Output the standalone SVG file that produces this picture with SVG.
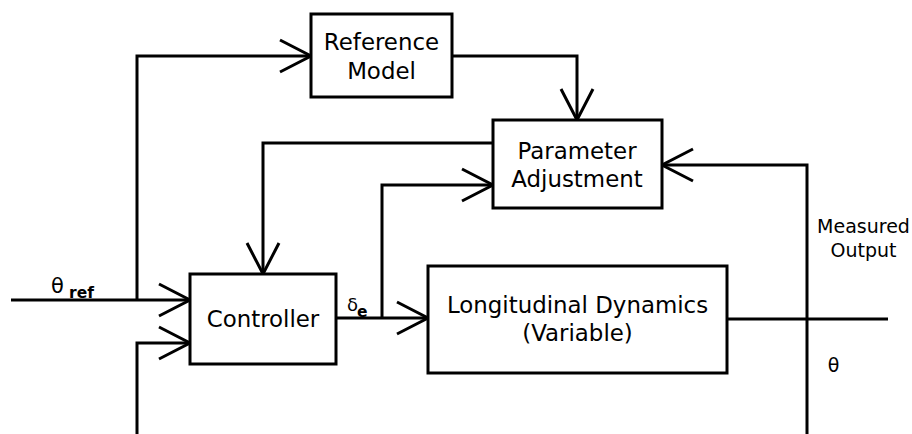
<svg xmlns="http://www.w3.org/2000/svg" width="912" height="434" viewBox="0 0 912 434">
<style>
.box{fill:#fff;stroke:#000;stroke-width:3}
.ln{fill:none;stroke:#000;stroke-width:3}
.t{font-family:"DejaVu Sans",sans-serif;font-size:22.9px;fill:#000;text-anchor:middle}
.s{font-family:"DejaVu Sans",sans-serif;font-size:19px;fill:#000;text-anchor:middle}
.g{font-family:"DejaVu Sans",sans-serif;fill:#000}
.b{font-family:"DejaVu Sans",sans-serif;font-weight:bold;fill:#000}
</style>
<defs>
<marker id="arr" markerUnits="userSpaceOnUse" viewBox="-34 -20 40 40" markerWidth="40" markerHeight="40" refX="0" refY="0" orient="auto" overflow="visible">
<path d="M-31,-16 L0,0 L-31,16" fill="none" stroke="#000" stroke-width="3"/>
</marker>
</defs>
<rect width="912" height="434" fill="#fff"/>
<g id="connectors">
<path class="ln" d="M11,300 H190" marker-end="url(#arr)"/>
<path class="ln" d="M137,300 V56 H311" marker-end="url(#arr)"/>
<path class="ln" d="M452,56 H577 V120" marker-end="url(#arr)"/>
<path class="ln" d="M493,143 H263 V274" marker-end="url(#arr)"/>
<path class="ln" d="M336,318 H428" marker-end="url(#arr)"/>
<path class="ln" d="M382,318 V185 H493" marker-end="url(#arr)"/>
<path class="ln" d="M137,434 V343 H190" marker-end="url(#arr)"/>
<path class="ln" d="M727,319 H888"/>
<path class="ln" d="M807,434 V165 H662" marker-end="url(#arr)"/>
</g>
<g id="reference-model">
<rect class="box" x="311" y="14" width="141" height="83"/>
<text class="t" x="381.5" y="50">Reference</text>
<text class="t" x="381.5" y="78.5">Model</text>
</g>
<g id="parameter-adjustment">
<rect class="box" x="493" y="120" width="169" height="88"/>
<text class="t" x="577" y="159">Parameter</text>
<text class="t" x="577" y="187">Adjustment</text>
</g>
<g id="controller">
<rect class="box" x="190" y="274" width="146" height="90"/>
<text class="t" x="263" y="327">Controller</text>
</g>
<g id="longitudinal-dynamics">
<rect class="box" x="428" y="266" width="299" height="107"/>
<text class="t" x="577.5" y="313">Longitudinal Dynamics</text>
<text class="t" x="577.5" y="341">(Variable)</text>
</g>
<g id="labels">
<text class="g" x="51" y="293" font-size="21">θ</text>
<text class="b" x="69" y="297.5" font-size="15.5">ref</text>
<text class="g" x="347" y="310.5" font-size="18">δ</text>
<text class="b" x="357" y="316.5" font-size="15.5">e</text>
<text class="s" x="863.5" y="232.5">Measured</text>
<text class="s" x="863.5" y="256.5">Output</text>
<text class="s" x="833.5" y="372">θ</text>
</g>
</svg>
